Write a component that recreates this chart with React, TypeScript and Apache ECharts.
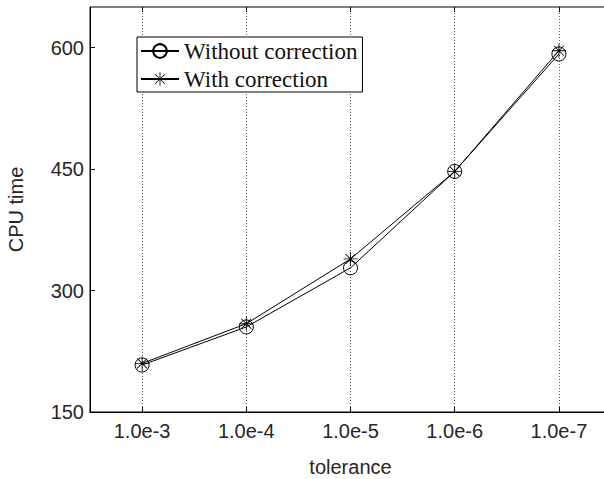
import React, { useEffect, useRef } from "react";
import * as echarts from "echarts";

const categories = ["1.0e-3", "1.0e-4", "1.0e-5", "1.0e-6", "1.0e-7"];
const withoutCorrection = [208, 255, 328, 447, 592];
const withCorrection = [210, 259, 339, 447, 596];
const yTicks = { min: 150, max: 650, interval: 150 };

const starPath =
  "path://M-0.06,-1L0.06,-1L0.06,1L-0.06,1Z M-1,-0.06L1,-0.06L1,0.06L-1,0.06Z M-0.75,-0.665L-0.665,-0.75L0.75,0.665L0.665,0.75Z M0.665,-0.75L0.75,-0.665L-0.665,0.75L-0.75,0.665Z";

export default function App() {
  const ref = useRef<HTMLDivElement>(null);
  useEffect(() => {
    if (!ref.current) return;
    const chart = echarts.init(ref.current, null, { renderer: "svg" });
    const sans = "Liberation Sans";
    const serif = "Liberation Serif";
    const txt = "#262626";
    chart.setOption({
      animation: false,
      backgroundColor: "#fff",
      grid: {
        left: 90,
        top: 7,
        width: 521,
        height: 405,
        outerBoundsMode: "none",
        containLabel: false,
        show: true,
        borderColor: "#000",
        borderWidth: 1,
        backgroundColor: "transparent",
      },
      legend: {
        left: 137,
        top: 37,
        orient: "vertical",
        backgroundColor: "#fff",
        borderColor: "#000",
        borderWidth: 1,
        borderRadius: 0,
        padding: [2, 5, 1, 3],
        itemGap: 4,
        itemWidth: 38,
        itemHeight: 17,
        textStyle: { fontFamily: serif, fontSize: 23, lineHeight: 24, color: "#111" },
        data: ["Without correction", "With correction"],
      },
      xAxis: [
        {
          type: "category",
          data: categories,
          position: "bottom",
          name: "tolerance",
          nameLocation: "middle",
          nameGap: 45,
          nameTextStyle: { fontFamily: sans, fontSize: 20, color: txt },
          axisLine: { show: true, lineStyle: { color: "#000", width: 1 } },
          axisTick: { show: true, inside: true, alignWithLabel: true, length: 5, lineStyle: { color: "#000" } },
          axisLabel: { fontFamily: sans, fontSize: 20, color: txt, margin: 9 },
          splitLine: {
            show: true,
            alignWithLabel: true,
            lineStyle: { color: "#555", type: [1, 2], width: 1 },
          },
        },
        {
          type: "category",
          data: categories,
          position: "top",
          axisLine: { show: false },
          axisTick: { show: true, inside: true, alignWithLabel: true, length: 5, lineStyle: { color: "#000" } },
          axisLabel: { show: false },
          splitLine: { show: false },
        },
      ],
      yAxis: {
        type: "value",
        min: yTicks.min,
        max: yTicks.max,
        interval: yTicks.interval,
        name: "CPU time",
        nameLocation: "middle",
        nameGap: 64,
        nameTextStyle: { fontFamily: sans, fontSize: 20, color: txt },
        axisLine: { show: true, lineStyle: { color: "#000", width: 1 } },
        axisTick: { show: true, inside: true, length: 5, lineStyle: { color: "#000" } },
        axisLabel: { fontFamily: sans, fontSize: 20, color: txt, margin: 6, showMaxLabel: false },
        splitLine: { show: false },
      },
      series: [
        {
          name: "Without correction",
          type: "line",
          data: withoutCorrection,
          symbol: "circle",
          symbolSize: 14,
          lineStyle: { color: "#000", width: 1 },
          itemStyle: { color: "rgba(0,0,0,0)", borderColor: "#000", borderWidth: 1 },
        },
        {
          name: "With correction",
          type: "line",
          data: withCorrection,
          symbol: starPath,
          symbolSize: 14,
          lineStyle: { color: "#000", width: 1 },
          itemStyle: { color: "#000", borderWidth: 0 },
        },
      ],
    });
    return () => chart.dispose();
  }, []);
  return (
    <div
      ref={ref}
      style={{ position: "fixed", left: 0, top: 0, width: 604, height: 479, overflow: "hidden" }}
    />
  );
}
